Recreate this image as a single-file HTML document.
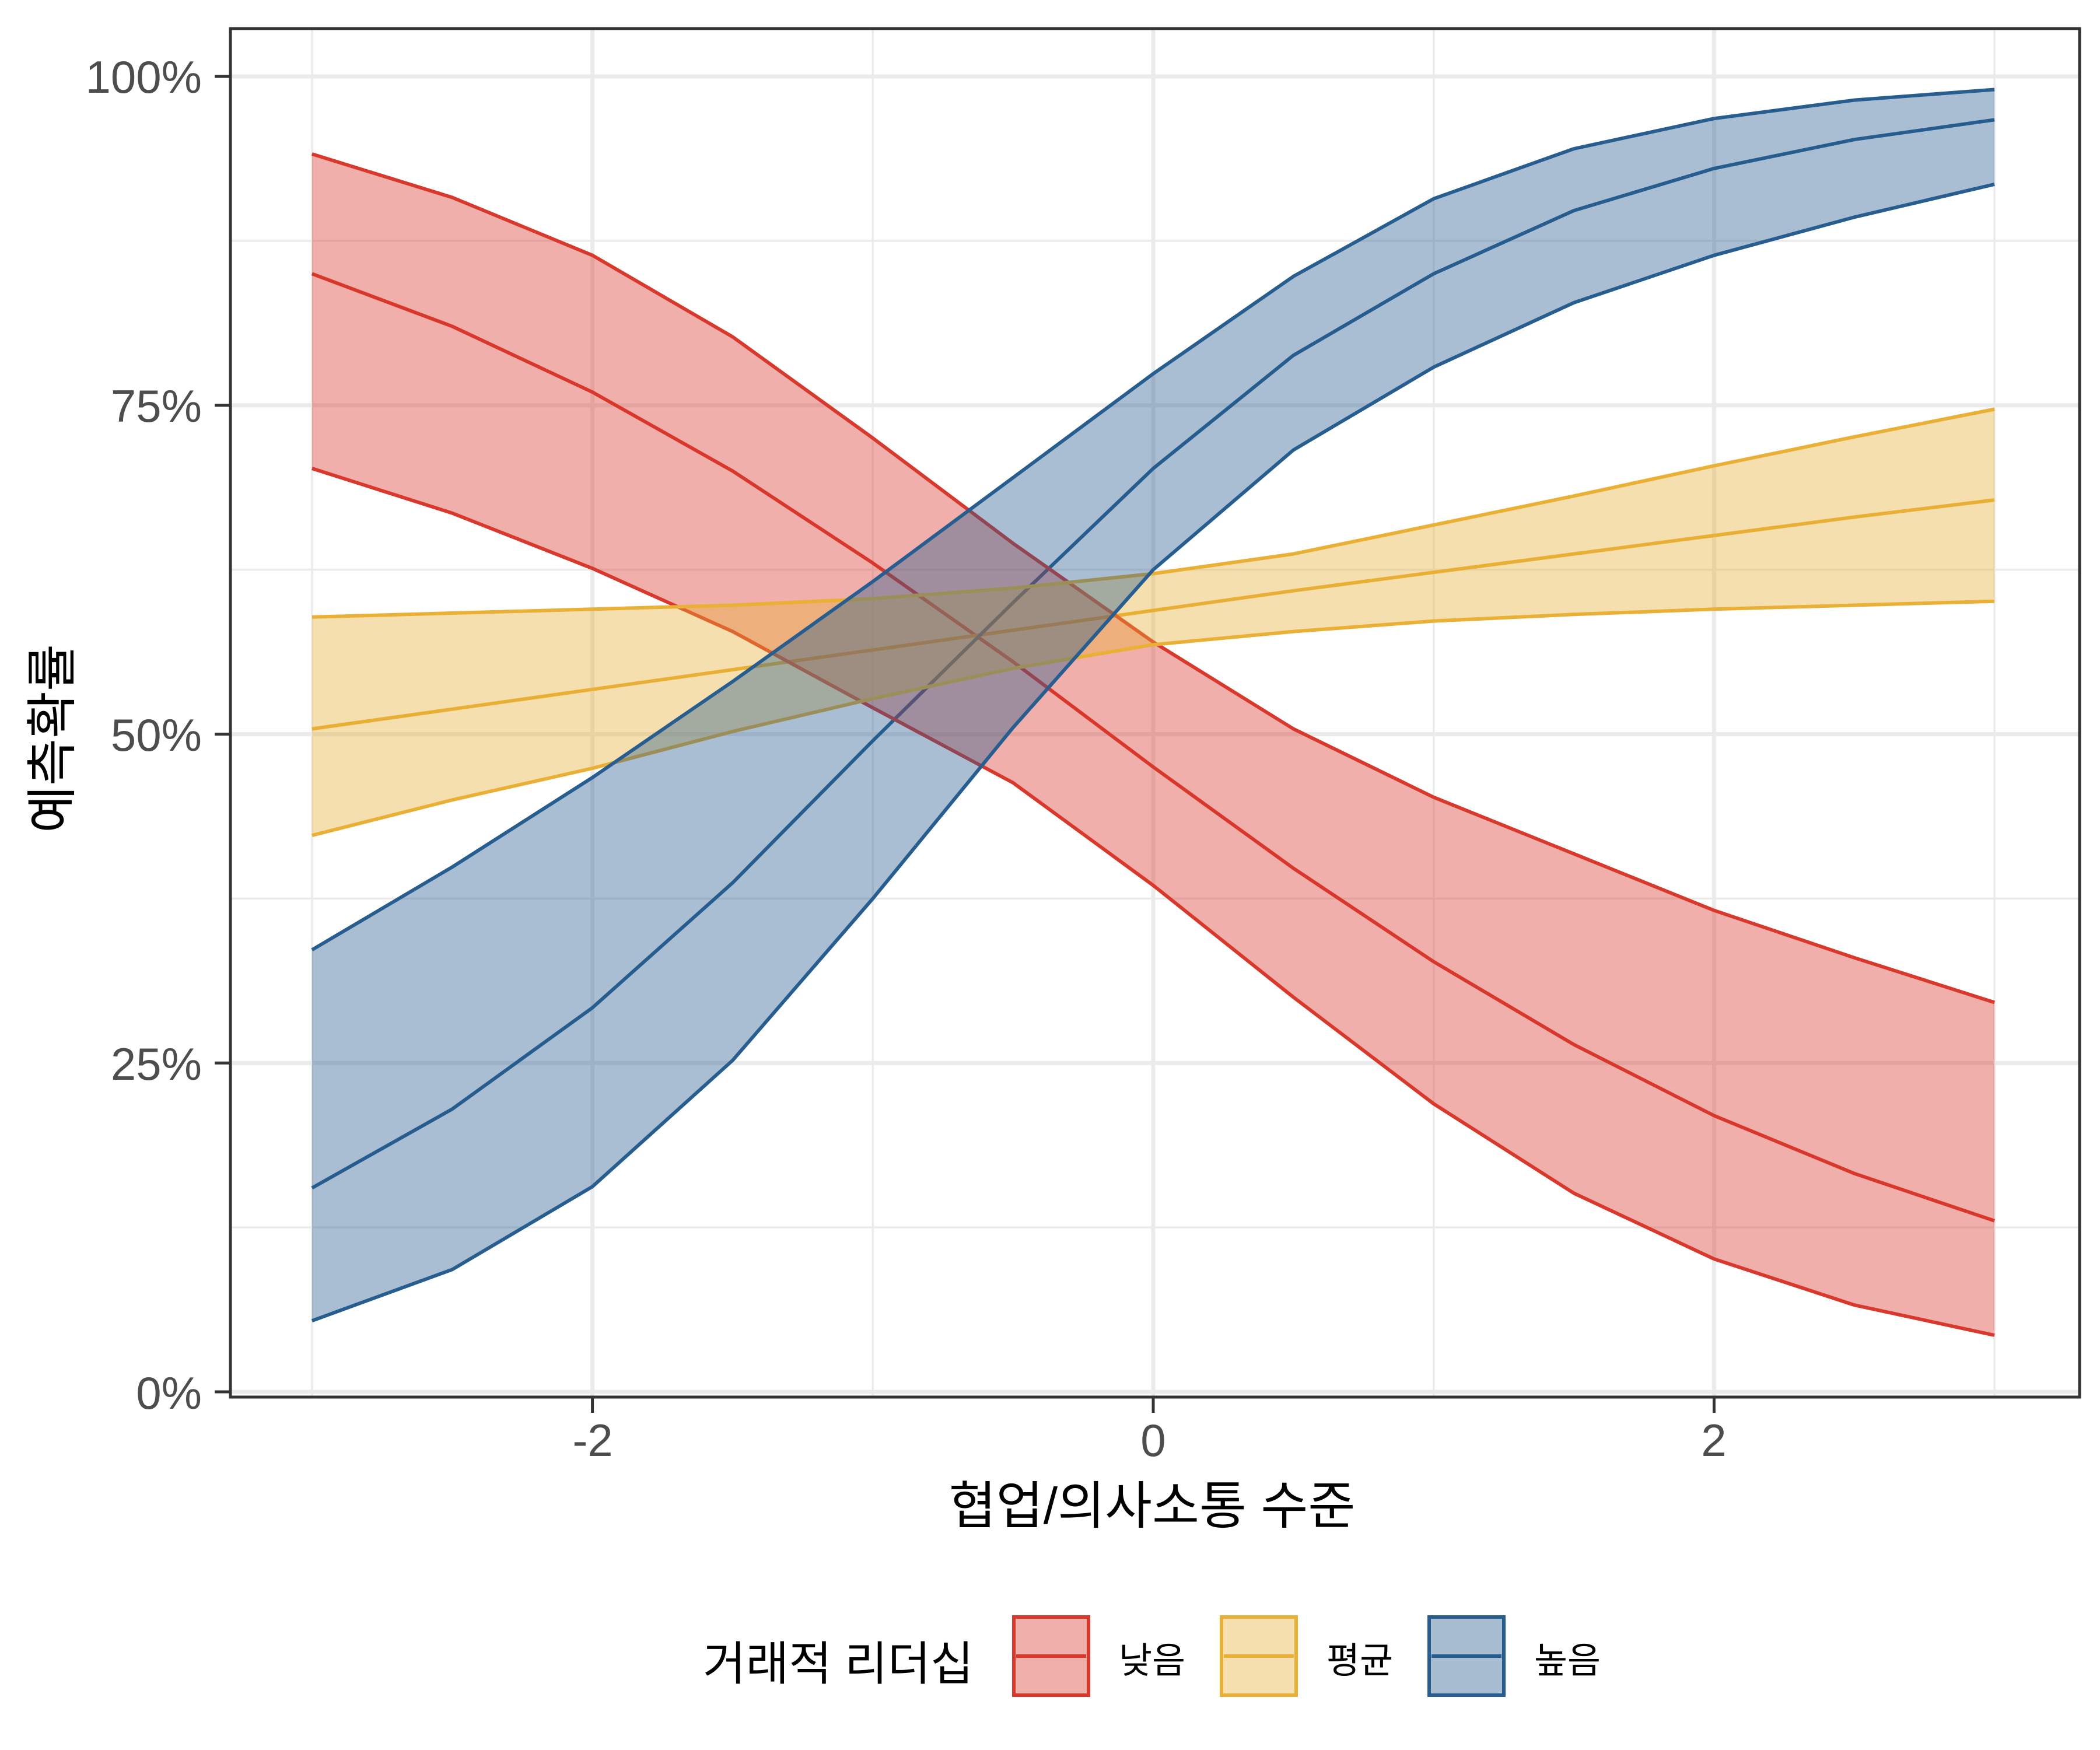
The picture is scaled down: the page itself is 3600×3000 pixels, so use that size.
<!DOCTYPE html>
<html><head><meta charset="utf-8">
<style>
html,body{margin:0;padding:0;background:#fff;}
svg{display:block;}
text{font-family:"Liberation Sans","Noto Sans CJK KR",sans-serif;}
</style></head>
<body>
<svg id="s" width="3600" height="3000" xmlns="http://www.w3.org/2000/svg">
<rect x="0" y="0" width="3600" height="3000" fill="#fff"/>
<g id="grid"></g>
<g id="data"></g>
<rect x="395" y="49" width="3170" height="2346" fill="none" stroke="#333" stroke-width="5"/>
<g id="ticks" stroke="#333" stroke-width="5"></g>
<g font-size="78" fill="#4D4D4D" text-anchor="end">
<text x="346" y="159">100%</text>
<text x="346" y="723">75%</text>
<text x="346" y="1287">50%</text>
<text x="346" y="1851">25%</text>
<text x="346" y="2415">0%</text>
</g>
<g font-size="78" fill="#4D4D4D" text-anchor="middle">
<text x="1016" y="2496">-2</text>
<text x="1977" y="2496">0</text>
<text x="2938" y="2496">2</text>
</g>
<text x="1975" y="2612" font-size="88" text-anchor="middle" fill="#000">협업/의사소통 수준</text>
<text transform="translate(120,1266) rotate(-90)" font-size="88" text-anchor="middle" fill="#000">예측확률</text>
<text x="1205" y="2880" font-size="80" fill="#000">거래적 리더십</text>
<g>
<rect x="1738" y="2772" width="128" height="134" fill="#F0AFAB" stroke="#D9382C" stroke-width="6"/>
<line x1="1742" y1="2839" x2="1862" y2="2839" stroke="#D9382C" stroke-width="6"/>
<text x="1918" y="2868" font-size="62" fill="#000">낮음</text>
<rect x="2094" y="2772" width="128" height="134" fill="#F6E0B0" stroke="#E9B035" stroke-width="6"/>
<line x1="2098" y1="2839" x2="2218" y2="2839" stroke="#E9B035" stroke-width="6"/>
<text x="2274" y="2868" font-size="62" fill="#000">평균</text>
<rect x="2450" y="2772" width="128" height="134" fill="#A9BDD2" stroke="#275D8F" stroke-width="6"/>
<line x1="2454" y1="2839" x2="2574" y2="2839" stroke="#275D8F" stroke-width="6"/>
<text x="2630" y="2868" font-size="62" fill="#000">높음</text>
</g>
</svg>
<script>
(function(){
var NS="http://www.w3.org/2000/svg";
function X(v){return 1977+480.7*v;}
function Y(p){return 2386-22.55*p;}
function el(tag,attrs,parent){var e=document.createElementNS(NS,tag);for(var k in attrs)e.setAttribute(k,attrs[k]);parent.appendChild(e);return e;}
var grid=document.getElementById('grid');
[-3,-1,1,3].forEach(function(v){el('line',{x1:X(v),x2:X(v),y1:49,y2:2395,stroke:'#EBEBEB','stroke-width':3.5},grid);});
[12.5,37.5,62.5,87.5].forEach(function(p){el('line',{x1:395,x2:3565,y1:Y(p),y2:Y(p),stroke:'#EBEBEB','stroke-width':3.5},grid);});
[-2,0,2].forEach(function(v){el('line',{x1:X(v),x2:X(v),y1:49,y2:2395,stroke:'#EBEBEB','stroke-width':7},grid);});
[0,25,50,75,100].forEach(function(p){el('line',{x1:395,x2:3565,y1:Y(p),y2:Y(p),stroke:'#EBEBEB','stroke-width':7},grid);});
var ticks=document.getElementById('ticks');
[0,25,50,75,100].forEach(function(p){el('line',{x1:368,x2:393,y1:Y(p),y2:Y(p)},ticks);});
[-2,0,2].forEach(function(v){el('line',{x1:X(v),x2:X(v),y1:2397,y2:2422},ticks);});
var xs=[-3,-2.5,-2,-1.5,-1,-0.5,0,0.5,1,1.5,2,2.5,3];
var S=[
 {c:'#D9382C',f:'#D9382C',
  hi:[94.1,90.8,86.4,80.2,72.5,64.5,57,50.4,45.2,40.9,36.6,33.0,29.6],
  mid:[85,81.0,76.0,70.0,63,55.5,47.5,39.8,32.7,26.4,21.0,16.6,13.0],
  lo:[70.2,66.8,62.6,57.8,52,46.3,38.5,30,21.9,15.1,10.1,6.6,4.3]},
 {c:'#E9B035',f:'#E9B035',
  hi:[58.9,59.2,59.5,59.8,60.3,61.1,62.2,63.7,65.9,68.1,70.4,72.6,74.7],
  mid:[50.4,51.9,53.4,54.9,56.4,57.9,59.4,60.9,62.3,63.7,65.1,66.5,67.8],
  lo:[42.3,45.0,47.4,50.2,52.7,55,56.8,57.8,58.6,59.1,59.5,59.8,60.1]},
 {c:'#275D8F',f:'#275D8F',
  hi:[33.6,39.9,46.7,54,61.6,69.5,77.4,84.8,90.7,94.5,96.8,98.2,99.0],
  mid:[15.5,21.5,29.2,38.7,49.5,60,70.2,78.8,85.0,89.8,93.0,95.2,96.7],
  lo:[5.4,9.3,15.6,25.2,37.5,50.5,62.5,71.6,77.9,82.8,86.4,89.3,91.8]}
];
var d=document.getElementById('data');
function pts(a){return a.map(function(p,i){return X(xs[i]).toFixed(1)+','+Y(p).toFixed(1);}).join(' ');}
S.forEach(function(s){el('polyline',{points:pts(s.mid),fill:'none',stroke:s.c,'stroke-width':6,'stroke-linejoin':'round'},d);});
S.forEach(function(s){
 var lo=s.lo.slice().reverse(), xr=xs.slice().reverse();
 var poly=pts(s.hi)+' '+lo.map(function(p,i){return X(xr[i]).toFixed(1)+','+Y(p).toFixed(1);}).join(' ');
 el('polygon',{points:poly,fill:s.f,'fill-opacity':0.4,stroke:'none'},d);
 el('polyline',{points:pts(s.hi),fill:'none',stroke:s.c,'stroke-width':6,'stroke-linejoin':'round'},d);
 el('polyline',{points:pts(s.lo),fill:'none',stroke:s.c,'stroke-width':6,'stroke-linejoin':'round'},d);
});
})();
</script>
</body></html>
